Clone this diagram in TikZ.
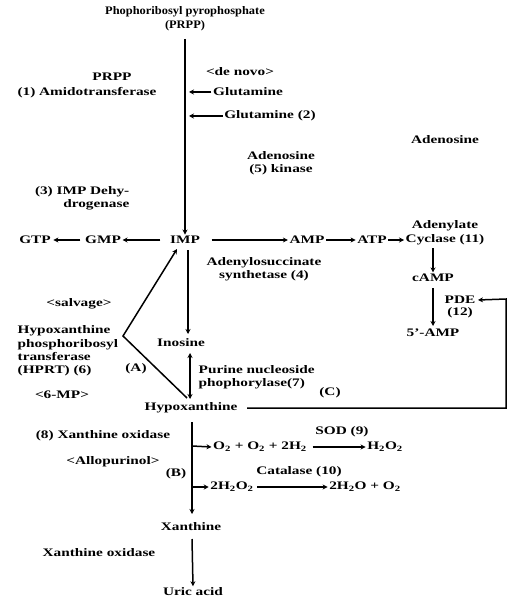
\documentclass[tikz,border=0pt]{standalone}
\usepackage{fontspec}
\setmainfont[FakeStretch=1.33]{Liberation Serif}
\newfontfamily\ttlfont[FakeStretch=1.08]{Liberation Serif}
\usetikzlibrary{arrows.meta}
\begin{document}
\begin{tikzpicture}[x=1pt,y=-1pt,
  lbl/.style={font=\fontsize{11.5}{13}\selectfont\bfseries, inner sep=1.5pt},
  ttl/.style={font=\ttlfont\fontsize{11.5}{13}\selectfont\bfseries, inner sep=1.5pt},
  ln/.style={line width=1.5pt},
  arr/.style={ln, -{Stealth[length=5pt,width=5pt]}},
  darr/.style={ln, {Stealth[length=5pt,width=5pt]}-{Stealth[length=5pt,width=5pt]}}]
\useasboundingbox (0,0) rectangle (509,601);
% top
\node[ttl] (title) at (185,12) {Phophoribosyl pyrophosphate};
\node[ttl] (prpp) at (185,26) {(PRPP)};
\coordinate (top) at (185,39);
\node[lbl] (denovo) at (240,72) {<de novo>};
\node[lbl] (glu1) at (248,92) {Glutamine};
\node[lbl] (glu2) at (270,116) {Glutamine (2)};
\coordinate (g1) at (189,92);
\coordinate (g2) at (189,116);
\node[lbl] (prppe) at (112,77) {PRPP};
\node[lbl] (amido) at (87,93) {(1) Amidotransferase};
\node[lbl] (adeno) at (445,140) {Adenosine};
\node[lbl, align=center] (kin) at (281,163) {Adenosine\\(5) kinase};
\node[lbl, align=right, anchor=east] (dehy) at (131,198) {(3) IMP Dehy-\\drogenase};
% IMP row
\node[lbl] (imp) at (185,240) {IMP};
\node[lbl] (gmp) at (103,240) {GMP};
\node[lbl] (gtp) at (35,240) {GTP};
\node[lbl] (amp) at (307,240) {AMP};
\node[lbl] (atp) at (372,240) {ATP};
\node[lbl] (cyc) at (445,240) {Cyclase (11)};
\node[lbl] (adl) at (445,226) {Adenylate};
\node[lbl] (camp) at (433,278) {cAMP};
\node[lbl] (pde) at (460,300) {PDE};
\node[lbl] (pde12) at (460,313) {(12)};
\node[lbl] (famp) at (433,333) {5'-AMP};
\node[lbl, align=center] (ados) at (264,269) {Adenylosuccinate\\synthetase (4)};
\draw[arr] (top) -- (imp.north);
\draw[arr] (glu1.west) -- (g1);
\draw[arr] (glu2.west) -- (g2);
\draw[arr] ([xshift=-8pt]imp.west) -- (gmp.east);
\draw[arr] ([xshift=-3pt]gmp.west) -- ([xshift=1pt]gtp.east);
\draw[arr] ([xshift=10pt]imp.east) -- (amp.west);
\draw[arr] (amp.east) -- (atp.west);
\draw[arr] (atp.east) -- (cyc.west);
\coordinate (cycs) at (433,248);
\coordinate (camps) at (433,288);
\draw[arr] (cycs) -- (camp.north);
\coordinate (famn) at (433,326);
\draw[arr] (camps) -- (famn);
% salvage
\node[lbl] (ino) at (181,343) {Inosine};
\node[lbl] (hyp) at (191,408) {Hypoxanthine};
\coordinate (impb) at (188,250);
\coordinate (inon) at (188,334);
\draw[arr] (impb) -- (inon);
\coordinate (inos) at (190,353);
\coordinate (hypn) at (190,399);
\draw[darr] (inos) -- (hypn);
\node[lbl, align=left, anchor=west] (pnp) at (197,377) {Purine nucleoside\\phophorylase(7)};
\coordinate (hv) at (123,336);
\coordinate (hd) at (187,398);
\coordinate (impsw) at (177,249);
\draw[arr, line join=miter] (hd) -- (hv) -- (impsw);
\node[lbl] (salv) at (79,304) {<salvage>};
\node[lbl, align=left, anchor=north west, font=\fontsize{11.5}{13.4}\selectfont\bfseries] (hprt) at (16,324) {Hypoxanthine\\phosphoribosyl\\transferase\\(HPRT) (6)};
\node[lbl] (A) at (136,369) {(A)};
\node[lbl] (mp) at (62,395) {<6-MP>};
% (C)
\coordinate (c1) at (506,408);
\coordinate (c2) at (506,299);
\draw[arr] ([xshift=8pt]hyp.east) -- (c1) -- (c2) -- ([xshift=1pt]pde.east);
\node[lbl] (C) at (330,393) {(C)};
% lower
\node[lbl] (xo8) at (103,436) {(8) Xanthine oxidase};
\node[lbl] (allo) at (113,462) {<Allopurinol>};
\node[lbl] (B) at (176,474) {(B)};
\node[lbl] (xan) at (191,527) {Xanthine};
\coordinate (hyps) at (192,422);
\coordinate (xann) at (192,514);
\draw[arr] (hyps) -- (xann);
\coordinate (b1) at (192,446);
\coordinate (b2) at (192,487);
\node[lbl] (oo) at (260,447) {O\textsubscript{2} + O\textsubscript{2} + 2H\textsubscript{2}};
\node[lbl] (hh) at (385,447) {H\textsubscript{2}O\textsubscript{2}};
\node[lbl] (sod) at (342,432) {SOD (9)};
\node[lbl] (h2o2) at (232,487) {2H\textsubscript{2}O\textsubscript{2}};
\node[lbl] (wo) at (365,487) {2H\textsubscript{2}O + O\textsubscript{2}};
\node[lbl] (cat) at (299,472) {Catalase (10)};
\draw[arr] (b1) -- (oo.west);
\draw[arr] (b2) -- (h2o2.west);
\draw[arr] ([xshift=4pt]oo.east) -- (hh.west);
\draw[arr] ([xshift=2pt]h2o2.east) -- (wo.west);
\node[lbl] (uric) at (193,592) {Uric acid};
\node[lbl] (xo) at (99,553) {Xanthine oxidase};
\coordinate (xans) at (192,539);
\draw[arr] (xans) -- (uric.north);
\end{tikzpicture}
\end{document}
